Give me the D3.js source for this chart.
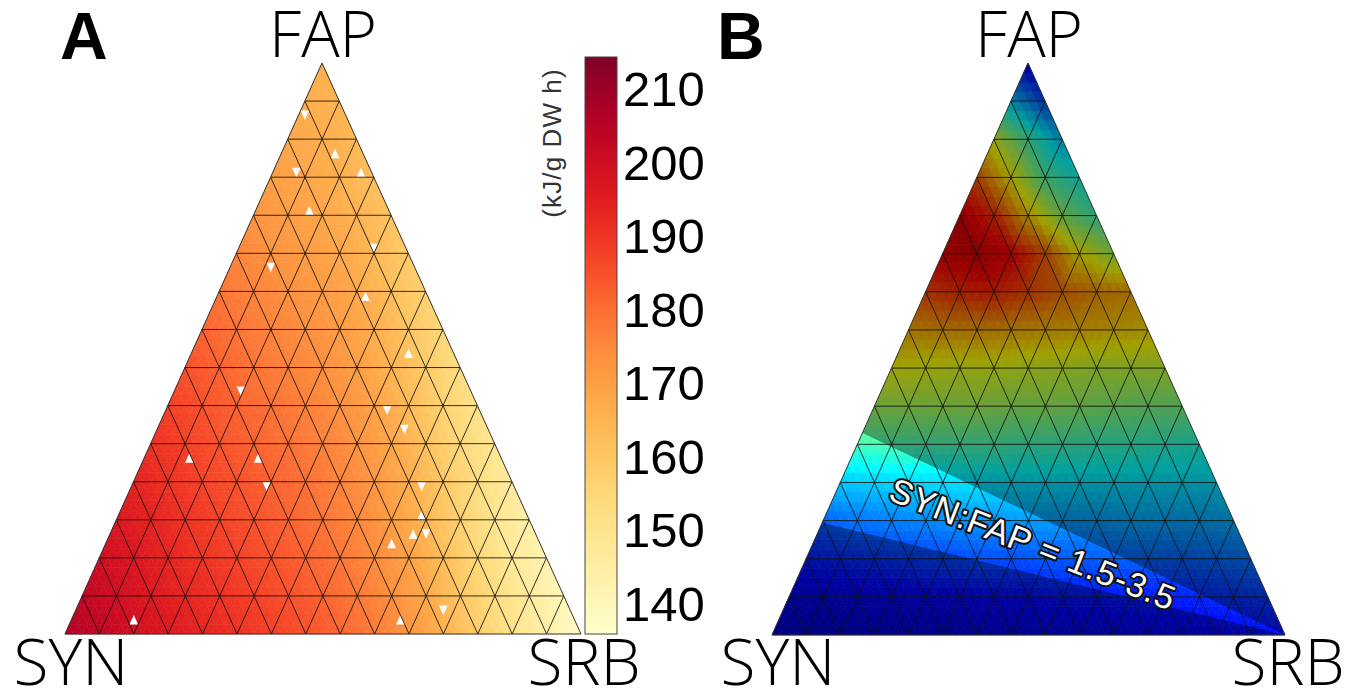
<!DOCTYPE html>
<html><head><meta charset="utf-8">
<script src="https://cdn.jsdelivr.net/npm/d3@7"></script>
<style>body{margin:0;background:#fff}svg{display:block}</style>
</head><body>
<svg id="chart" width="1358" height="690"></svg>
<script>
// ---------------- data ----------------
const divisions = 15;                       // ternary grid divisions
const panelLabels = ["A", "B"];
const vertexLabels = ["FAP", "SYN", "SRB"]; // top, bottom-left, bottom-right
const colorbarTicks = [140, 150, 160, 170, 180, 190, 200, 210];
const colorbarDomain = [136, 214.5];
const colorbarTitle = "(kJ/g DW h)";

// Panel A: values at grid nodes, row = FAP steps (0 = bottom edge), column = SRB steps
const energyRows = [
  [206,203,199.5,196.5,193.5,190.8,188,185,181.5,177.9,172.8,166,158.3,151,144.2,138],
  [203,199.9,196.6,193.4,190.7,188,185,182,178.4,173.8,168.2,160.4,153.2,146.8,140],
  [200,196.9,193.6,190.4,187.7,185,182.1,178.8,174.9,170,162.6,155.1,148,142],
  [197,194,190.6,187.6,184.9,182.1,179,175.5,171,164.4,157,150,144],
  [194,191,187.6,184.9,182.3,179.7,176.3,172.3,166.9,159.8,153,147],
  [191,188,184.7,182.1,179.5,176.7,173.3,168.7,161.6,154.9,149],
  [188,185,181.8,179.3,176.8,173.6,169.7,163.5,157,151],
  [185,182,179,176.6,174,170.5,165.2,158.8,153],
  [182,179,176.4,174,171.1,166.9,160.7,155],
  [179,176,173.7,171.3,167.9,162.4,157],
  [176,173.2,171.1,168.6,164,159],
  [173,170.6,168.7,165.4,161],
  [170.5,168.5,166.3,162],
  [168.5,166.8,164],
  [167,165],
  [166]
];
// Panel A: data points without a value (FAP, SRB fractions) — drawn white
const missingPoints = [
  [0.916,0.007],[0.844,0.103],[0.816,0.035],[0.816,0.167],[0.734,0.101],[0.683,0.257],
  [0.641,0.082],[0.585,0.294],[0.489,0.425],[0.427,0.126],[0.392,0.427],[0.357,0.479],
  [0.301,0.086],[0.313,0.218],[0.254,0.563],[0.214,0.585],[0.182,0.584],[0.182,0.607],
  [0.152,0.554],[0.046,0.706],[0.023,0.634],[0.023,0.126],[0.263,0.262]
];

// Panel B: normalised values (0..1, jet colour map) at grid nodes, same layout
const ratioRows = [
  [0.07,0.07,0.07,0.08,0.08,0.08,0.09,0.09,0.1,0.1,0.1,0.11,0.11,0.12,0.13,0.14],
  [0.1,0.1,0.11,0.11,0.12,0.12,0.13,0.13,0.14,0.14,0.15,0.15,0.16,0.17,0.18],
  [0.15,0.16,0.17,0.18,0.19,0.2,0.2,0.21,0.21,0.22,0.22,0.22,0.23,0.24],
  [0.22,0.24,0.25,0.26,0.27,0.27,0.28,0.28,0.28,0.29,0.29,0.29,0.3],
  [0.32,0.33,0.34,0.34,0.35,0.35,0.35,0.35,0.35,0.35,0.35,0.35],
  [0.44,0.45,0.45,0.45,0.45,0.44,0.44,0.43,0.43,0.42,0.41],
  [0.54,0.54,0.54,0.54,0.53,0.53,0.52,0.51,0.5,0.5],
  [0.62,0.61,0.6,0.6,0.59,0.58,0.57,0.57,0.57],
  [0.7,0.71,0.71,0.7,0.69,0.68,0.67,0.66],
  [0.8,0.83,0.84,0.8,0.76,0.73,0.71],
  [0.9,0.92,0.88,0.78,0.63,0.55],
  [0.91,0.83,0.67,0.52,0.44],
  [0.78,0.63,0.46,0.4],
  [0.6,0.45,0.32],
  [0.33,0.2],
  [0.1]
];
const bandRatios = [1.83, 4.1];            // SYN:FAP ratios bounding the highlighted band
const bandLabel = "SYN:FAP = 1.5-3.5";
const jetStops = ["#00007f","#0000ff","#00ffff","#ffff00","#ff0000","#7f0000"];
const jetPositions = [0, 0.125, 0.375, 0.625, 0.875, 1];

// ---------------- layout ----------------
const svg = d3.select("#chart");
const panels = [
  {x0: 65, x1: 581, xt: 322, yb: 634, yt: 63, rows: energyRows, missing: missingPoints,
   color: d3.scaleSequential(d3.interpolateYlOrRd).domain(colorbarDomain)},
  {x0: 772, x1: 1285, xt: 1028, yb: 635, yt: 63, rows: ratioRows, missing: [],
   color: d3.scaleLinear().domain(jetPositions).range(jetStops).clamp(true)}
];

function valueAt(rows, f, s) {
  const F = f * divisions, S = s * divisions;
  const i0 = Math.floor(F), j0 = Math.floor(S);
  const a = F - i0, b = S - j0;
  const V = (i, j) => rows[i][j];
  if (a + b <= 1) {
    return (1 - a - b) * V(i0, j0) + a * V(i0 + 1, j0) + b * V(i0, j0 + 1);
  }
  return (a + b - 1) * V(i0 + 1, j0 + 1) + (1 - b) * V(i0 + 1, j0) + (1 - a) * V(i0, j0 + 1);
}

const N = divisions * 4;   // fine sub-cells used for shading
function subCell(f, s) {
  const F = f * N, S = s * N;
  const r = Math.floor(F), c = Math.floor(S);
  if ((F - r) + (S - c) <= 1) return [[r, c], [r + 1, c], [r, c + 1]];
  return [[r + 1, c], [r, c + 1], [r + 1, c + 1]];
}

panels.forEach((p, pi) => {
  const xF = d3.scaleLinear().domain([0, 1]).range([p.x0, p.xt]);
  const xS = d3.scaleLinear().domain([0, 1]).range([0, p.x1 - p.x0]);
  const yF = d3.scaleLinear().domain([0, 1]).range([p.yb, p.yt]);
  const pt = (f, s) => [xF(f) + xS(s), yF(f)];
  const g = svg.append("g");

  const cells = [];
  for (let r = 0; r < N; r++) {
    for (let c = 0; c < N - r; c++) {
      cells.push({pts: [[r, c], [r + 1, c], [r, c + 1]], cf: (r + 1 / 3) / N, cs: (c + 1 / 3) / N});
      if (c <= N - r - 2) {
        cells.push({pts: [[r + 1, c], [r, c + 1], [r + 1, c + 1]], cf: (r + 2 / 3) / N, cs: (c + 2 / 3) / N});
      }
    }
  }
  g.append("g").selectAll("path").data(cells).join("path")
    .attr("d", d => "M" + d.pts.map(q => pt(q[0] / N, q[1] / N).join(",")).join("L") + "Z")
    .each(function (d) {
      const col = p.color(valueAt(p.rows, d.cf, d.cs));
      d3.select(this).attr("fill", col).attr("stroke", col).attr("stroke-width", 0.6);
    });

  // cells with no value
  g.append("g").selectAll("path").data(p.missing).join("path")
    .attr("d", d => "M" + subCell(d[0], d[1]).map(q => pt(q[0] / N, q[1] / N).join(",")).join("L") + "Z")
    .attr("fill", "#fff");

  // panel B: dim everything outside the highlighted band
  if (pi === 1) {
    const ft = 1 / (1 + bandRatios[0]), fb = 1 / (1 + bandRatios[1]);
    const polys = [
      [[1, 0], [ft, 0], [0, 1]],
      [[fb, 0], [0, 0], [0, 1]]
    ];
    g.append("g").selectAll("path").data(polys).join("path")
      .attr("d", d => "M" + d.map(q => pt(q[0], q[1]).join(",")).join("L") + "Z")
      .attr("fill", "#000").attr("fill-opacity", 0.37);
  }

  // grid lines
  const lines = [];
  for (let k = 1; k < divisions; k++) {
    const t = k / divisions;
    lines.push([[t, 0], [t, 1 - t]]);
    lines.push([[0, t], [1 - t, t]]);
    lines.push([[0, 1 - t], [1 - t, 0]]);
  }
  g.append("g").selectAll("line").data(lines).join("line")
    .attr("x1", d => pt(...d[0])[0]).attr("y1", d => pt(...d[0])[1])
    .attr("x2", d => pt(...d[1])[0]).attr("y2", d => pt(...d[1])[1])
    .attr("stroke", "#111").attr("stroke-opacity", 0.85).attr("stroke-width", 1);
  g.append("path")
    .attr("d", "M" + [pt(1, 0), pt(0, 0), pt(0, 1)].map(q => q.join(",")).join("L") + "Z")
    .attr("fill", "none").attr("stroke", "#333").attr("stroke-width", 1);

  // vertex labels
  const lab = g.append("g").attr("font-family", "'Open Sans', 'Liberation Sans', sans-serif")
    .attr("font-weight", 300).attr("font-size", 64).attr("fill", "#000").attr("text-anchor", "middle");
  lab.append("text").attr("x", p.xt + 1).attr("y", 57).text(vertexLabels[0]);
  lab.append("text").attr("x", p.x0 + 6).attr("y", 685).text(vertexLabels[1]);
  lab.append("text").attr("x", p.x1 + 3).attr("y", 685).text(vertexLabels[2]);

  // panel letter
  g.append("text").attr("x", pi === 0 ? 60 : 717).attr("y", 59)
    .attr("font-family", "'Liberation Sans', Arial, sans-serif").attr("font-weight", 700)
    .attr("font-size", 66).text(panelLabels[pi]);

  if (pi === 1) {
    g.append("text")
      .attr("transform", "translate(1033,544) rotate(21.5)")
      .attr("text-anchor", "middle").attr("dominant-baseline", "central")
      .attr("font-family", "'Liberation Sans', Arial, sans-serif").attr("font-size", 34)
      .attr("letter-spacing", 1)
      .attr("fill", "#fff").attr("stroke", "#111").attr("stroke-width", 4)
      .attr("stroke-linejoin", "round").attr("paint-order", "stroke")
      .text(bandLabel);
  }
});

// ---------------- colour bar ----------------
const cbX = 585, cbW = 32, cbTop = 57, cbBot = 634;
const cbScale = d3.scaleLinear().domain(colorbarDomain).range([cbBot, cbTop]);
const defs = svg.append("defs");
const grad = defs.append("linearGradient").attr("id", "cbgrad")
  .attr("x1", 0).attr("y1", 1).attr("x2", 0).attr("y2", 0);
d3.range(0, 1.0001, 0.05).forEach(t => {
  grad.append("stop").attr("offset", t).attr("stop-color", d3.interpolateYlOrRd(t));
});
svg.append("rect").attr("x", cbX).attr("y", cbTop).attr("width", cbW).attr("height", cbBot - cbTop)
  .attr("fill", "url(#cbgrad)").attr("stroke", "#444").attr("stroke-width", 1);
const axis = svg.append("g").attr("transform", `translate(${cbX + cbW},0)`)
  .call(d3.axisRight(cbScale).tickValues(colorbarTicks).tickSize(0).tickPadding(6));
axis.select(".domain").remove();
axis.selectAll("text").attr("font-family", "'Liberation Sans', Arial, sans-serif")
  .attr("font-size", 49).attr("fill", "#000");
svg.append("text").attr("transform", "translate(561,143) rotate(-90)")
  .attr("text-anchor", "middle")
  .attr("font-family", "'Liberation Sans', Arial, sans-serif").attr("font-size", 26)
  .attr("letter-spacing", 1.1)
  .attr("fill", "#333").text(colorbarTitle);
</script>
</body></html>
